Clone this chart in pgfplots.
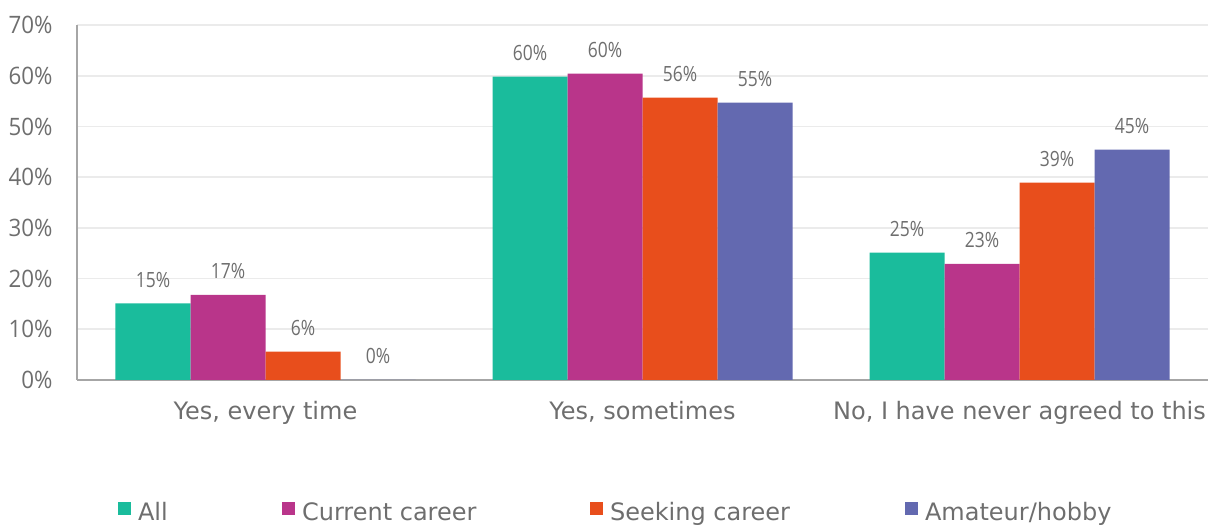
\documentclass[border=0pt]{standalone}
\usepackage{fontspec}
\setmainfont{DejaVu Sans}
\newfontfamily\tickfont[FakeStretch=0.93]{Open Sans}
\newfontfamily\lblfont[FakeStretch=0.83]{Open Sans}
\usepackage{pgfplots}
\pgfplotsset{compat=1.18}
\definecolor{cAll}{HTML}{1ABC9C}
\definecolor{cCur}{HTML}{B9358A}
\definecolor{cSeek}{HTML}{E84E1C}
\definecolor{cAma}{HTML}{6369B0}
\definecolor{txt}{HTML}{6E6E6E}
\definecolor{gridc}{HTML}{EBEBEB}
\definecolor{axc}{HTML}{A6A6A6}
\begin{document}
\begin{tikzpicture}
\begin{axis}[
  scale only axis, width=565.5pt, height=177.5pt,
  xmin=-0.5, xmax=2.5, ymin=0, ymax=70,
  ybar=0pt, bar width=37.5pt,
  xtick={0,1,2},
  xticklabels={{Yes, every time},{Yes, sometimes},{No, I have never agreed to this}},
  ytick={0,10,...,70},
  yticklabel={\pgfmathprintnumber{\tick}\%},
  major tick length=0pt,
  axis x line*=bottom, axis y line*=left,
  axis line style={-, draw=axc, line width=0.8pt},
  ymajorgrids, major grid style={draw=gridc, line width=0.8pt},
  yticklabel style={font=\tickfont\fontsize{12}{14}\selectfont, text=txt, anchor=east, inner sep=0pt, xshift=-12pt},
  xticklabel style={font=\fontsize{12}{15}\selectfont, text=txt, anchor=base, inner sep=0pt, yshift=-20pt},
  /pgf/number format/assume math mode=true,
  point meta=explicit symbolic,
  nodes near coords={\pgfplotspointmeta\%},
  every node near coord/.append style={font=\lblfont\fontsize{10.5}{12}\selectfont, text=txt, anchor=base, inner sep=0pt, yshift=8pt},
  legend columns=4,
  legend image code/.code={\fill[#1] (0pt,-1pt) rectangle (6.5pt,5.5pt);},
  legend style={at={(0.0363,-0.3746)}, anchor=west, draw=none, fill=none,
    inner sep=0pt, outer sep=0pt, column sep=0pt,
    font=\fontsize{12}{14}\selectfont, text=txt,
    nodes={inner sep=0pt}},
]
\coordinate (O) at (rel axis cs:0,0);
\addplot[fill=cAll, draw=none] coordinates {(0,15.1)[15] (1,59.8)[60] (2,25.1)[25]};
\addlegendentry{\makebox[75.5pt][l]{\hspace{3.5pt}All}}
\addplot[fill=cCur, draw=none] coordinates {(0,16.8)[17] (1,60.4)[60] (2,22.9)[23]};
\addlegendentry{\makebox[147.5pt][l]{\hspace{3.5pt}Current career}}
\addplot[fill=cSeek, draw=none] coordinates {(0,5.6)[6] (1,55.7)[56] (2,38.9)[39]};
\addlegendentry{\makebox[151pt][l]{\hspace{3.5pt}Seeking career}}
\addplot[fill=cAma, draw=none] coordinates {(0,0)[0] (1,54.7)[55] (2,45.4)[45]};
\addlegendentry{\hspace{3.5pt}Amateur/hobby}
\end{axis}
\pgfresetboundingbox
\path (O) ++(-38.5pt,-74pt) rectangle ++(607.5pt,264pt);
\end{tikzpicture}
\end{document}
